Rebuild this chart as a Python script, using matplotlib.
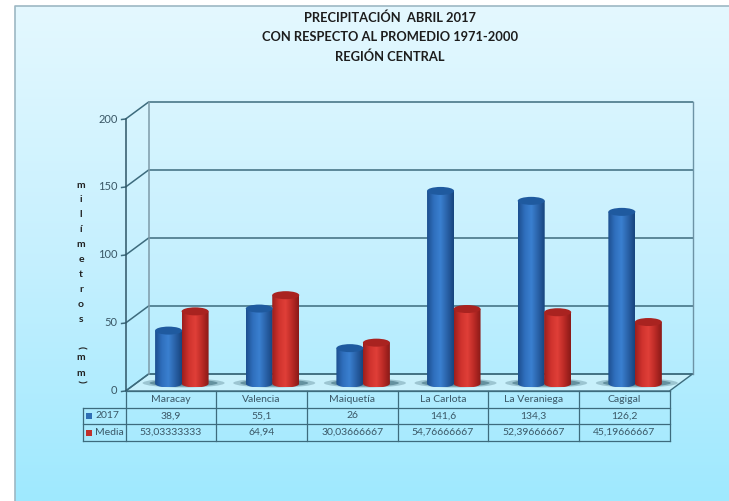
import numpy as np
import matplotlib
matplotlib.use("Agg")
import matplotlib.pyplot as plt
from matplotlib.patches import Polygon, Ellipse, Rectangle
from matplotlib.colors import LinearSegmentedColormap

plt.rcParams['font.family'] = ['Lato', 'DejaVu Sans']

estaciones = ["Maracay", "Valencia", "Maiquetía", "La Carlota", "La Veraniega", "Cagigal"]
v2017 = [38.9, 55.1, 26, 141.6, 134.3, 126.2]
media = [53.03333333, 64.94, 30.03666667, 54.76666667, 52.39666667, 45.19666667]
txt2017 = ["38,9", "55,1", "26", "141,6", "134,3", "126,2"]
txtmedia = ["53,03333333", "64,94", "30,03666667", "54,76666667", "52,39666667", "45,19666667"]
yticks = [0, 50, 100, 150, 200]
titulo = "PRECIPITACIÓN  ABRIL 2017\nCON RESPECTO AL PROMEDIO 1971-2000\nREGIÓN CENTRAL"
eje = "milímetros"

W, H = 729, 501
fig = plt.figure(figsize=(W / 100, H / 100), dpi=100)
ax = fig.add_axes([0, 0, 1, 1])
ax.set_xlim(0, W)
ax.set_ylim(H, 0)
ax.axis("off")

# scale, pixel positions of the front plane
x0, colw = 125.6, 90.65
y0, ppu = 391.0, 1.36
dx, dy = 23, 17
linea = "#3d6b7d"
texto = "#3a5766"

def fx(i):
    return x0 + i * colw

def fy(v):
    return y0 - v * ppu

# background
fondo = LinearSegmentedColormap.from_list("fondo", ["#e4f8ff", "#c6f0fe", "#9fe9ff"])
ax.imshow(np.linspace(0, 1, 256).reshape(-1, 1), cmap=fondo, extent=(15, W, H, 6), aspect="auto", zorder=0)
ax.plot([15, 15, W], [H, 6, 6], color="#9db8c4", lw=1.2, zorder=1)

# walls and floor
ax.add_patch(Polygon([(fx(0), y0), (fx(6), y0), (fx(6) + dx, y0 - dy), (fx(0) + dx, y0 - dy)],
                     fc="#c8f0fb", ec=linea, lw=1, zorder=1))
for t in yticks:
    y = fy(t)
    ax.plot([fx(0) - 4, fx(0), fx(0) + dx, fx(6) + dx], [y + 0.5, y, y - dy, y - dy], color=linea, lw=1.1, zorder=1)
    ax.text(fx(0) - 8, y, str(t), ha="right", va="center", fontsize=8, color=texto)
ax.plot([fx(0), fx(0)], [fy(200), y0], color="#2e5566", lw=1.1, zorder=1)
ax.plot([fx(0) + dx] * 2, [fy(200) - dy, y0 - dy], color="#7d9aa8", lw=1.1, zorder=1)
ax.plot([fx(6) + dx] * 2, [fy(200) - dy, y0 - dy], color="#6d93a5", lw=1, zorder=1)

# cylinders
azul = LinearSegmentedColormap.from_list("azul", ["#1d4f8f", "#2f6fbd", "#3a80d0", "#2a62a8", "#17457f"])
rojo = LinearSegmentedColormap.from_list("rojo", ["#9c1f1d", "#cf322d", "#e03f38", "#bb2a26", "#8a1a18"])
grad = np.linspace(0, 1, 64).reshape(1, -1)
ancho, ry = 27, 4
base = y0 - 7.5

def cilindro(cx, v, cmap, tapa):
    top = base - v * ppu
    izq, der = cx - ancho / 2, cx + ancho / 2
    t = np.linspace(np.pi, 0, 30)
    abajo = np.column_stack([cx + np.cos(t) * ancho / 2, base + np.sin(t) * ry])
    verts = [(izq, top)] + abajo.tolist() + [(der, top)]
    clip = Polygon(verts, closed=True, transform=ax.transData)
    im = ax.imshow(grad, cmap=cmap, extent=(izq, der, base + ry, top), aspect="auto", zorder=4)
    im.set_clip_path(clip)
    ax.add_patch(Ellipse((cx, top), ancho, ry * 2, fc=tapa, ec="none", zorder=5))

for i, (a, b) in enumerate(zip(v2017, media)):
    # floor shadow, darker close to the bars
    ax.add_patch(Ellipse((fx(i) + 58, base - 0.5), 82, 9, fc="#7fa9b6", ec="none", alpha=0.6, zorder=2))
    ax.add_patch(Ellipse((fx(i) + 58, base - 0.5), 68, 7, fc="#3f6f7e", ec="none", alpha=0.6, zorder=2))
    cilindro(fx(i) + 43, a, azul, "#1f5a9f")
    cilindro(fx(i) + 69.5, b, rojo, "#a92320")

# data table
filas = [y0, 407.7, 424.3, 441]
xleg = 82.7
for y in filas:
    ax.plot([x0 if y == y0 else xleg, fx(6)], [y, y], color=linea, lw=0.9, zorder=3)
for i in range(7):
    ax.plot([fx(i)] * 2, [y0, filas[3]], color=linea, lw=0.9, zorder=3)
ax.plot([xleg, xleg], [filas[1], filas[3]], color=linea, lw=0.9, zorder=3)
for i, n in enumerate(estaciones):
    cx = fx(i) + colw / 2
    ax.text(cx, (filas[0] + filas[1]) / 2, n, ha="center", va="center", fontsize=7.5, color=texto)
    ax.text(cx, (filas[1] + filas[2]) / 2, txt2017[i], ha="center", va="center", fontsize=7.5, color=texto)
    ax.text(cx, (filas[2] + filas[3]) / 2, txtmedia[i], ha="center", va="center", fontsize=7.5, color=texto)
for k, (s, c) in enumerate([("2017", "#2f6fb5"), ("Media", "#c0302c")]):
    ym = (filas[k + 1] + filas[k + 2]) / 2
    ax.add_patch(Rectangle((86.5, ym - 3), 6, 6, fc=c, ec="none", zorder=3))
    ax.text(95, ym, s, ha="left", va="center", fontsize=7.5, color=texto)

# axis label, one letter per line
for k, c in enumerate(eje):
    ax.text(81, 185 + k * 14.9, c, ha="center", va="center", fontsize=7.5, fontweight="bold", color="#222222")
ax.text(81, 347, "(", ha="center", va="center", fontsize=7.5, fontweight="bold", color="#222222", rotation=-90)
ax.text(81, 358, "m", ha="center", va="center", fontsize=7.5, fontweight="bold", color="#222222")
ax.text(81, 373, "m", ha="center", va="center", fontsize=7.5, fontweight="bold", color="#222222")
ax.text(81, 381, ")", ha="center", va="center", fontsize=7.5, fontweight="bold", color="#222222", rotation=-90)

ax.text(390, 37, titulo, ha="center", va="center", fontsize=9.3, fontweight="bold", color="#1d1d1d", linespacing=1.72)

fig.savefig("out.png", dpi=100)
